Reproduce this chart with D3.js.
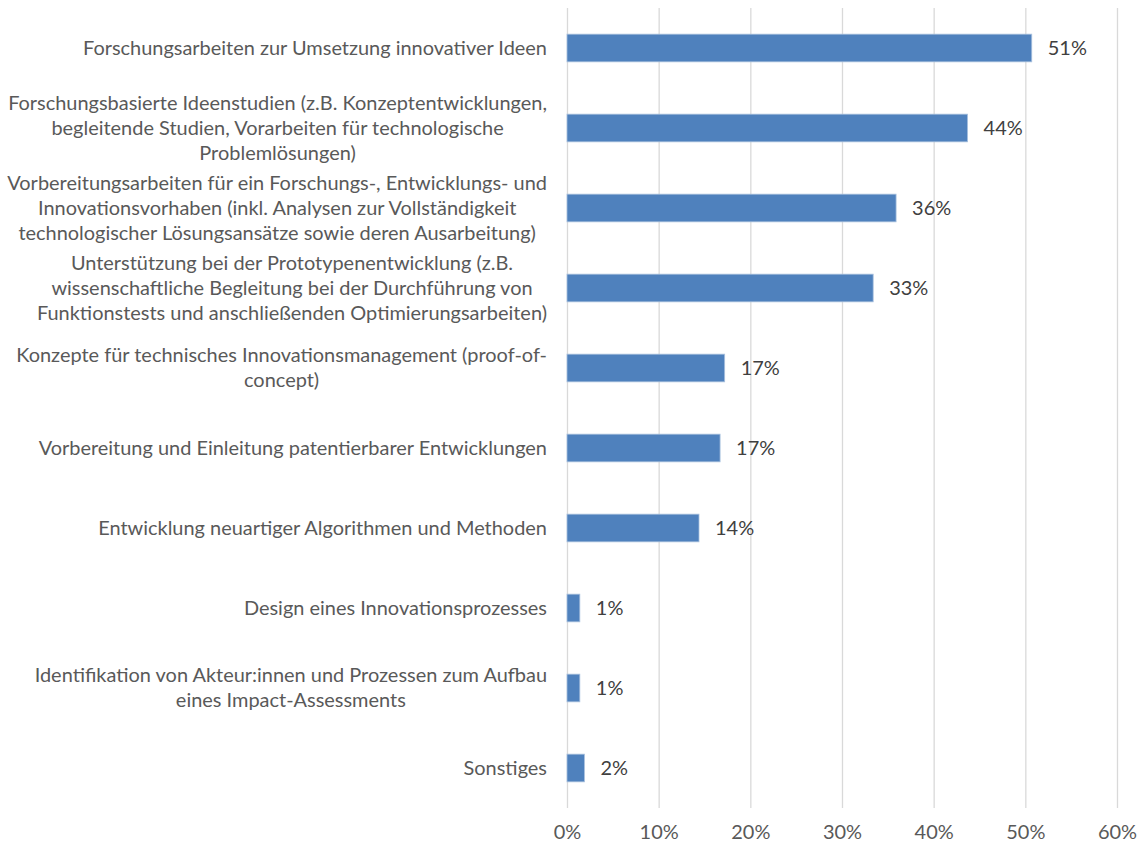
<!DOCTYPE html>
<html><head><meta charset="utf-8">
<script src="https://cdn.jsdelivr.net/npm/d3@7"></script>
<style>body{margin:0;background:#fff}svg{display:block}</style>
</head><body>
<svg id="c" width="1143" height="845"></svg>
<script>
const categories = [
  ["Forschungsarbeiten zur Umsetzung innovativer Ideen"],
  ["Forschungsbasierte Ideenstudien (z.B. Konzeptentwicklungen,", "begleitende Studien, Vorarbeiten für technologische", "Problemlösungen)"],
  ["Vorbereitungsarbeiten für ein Forschungs-, Entwicklungs- und", "Innovationsvorhaben (inkl. Analysen zur Vollständigkeit", "technologischer Lösungsansätze sowie deren Ausarbeitung)"],
  ["Unterstützung bei der Prototypenentwicklung (z.B.", "wissenschaftliche Begleitung bei der Durchführung von", "Funktionstests und anschließenden Optimierungsarbeiten)"],
  ["Konzepte für technisches Innovationsmanagement (proof-of-", "concept)"],
  ["Vorbereitung und Einleitung patentierbarer Entwicklungen"],
  ["Entwicklung neuartiger Algorithmen und Methoden"],
  ["Design eines Innovationsprozesses"],
  ["Identifikation von Akteur:innen und Prozessen zum Aufbau", "eines Impact-Assessments"],
  ["Sonstiges"]
];
const values = [0.507, 0.437, 0.359, 0.334, 0.172, 0.167, 0.144, 0.014, 0.014, 0.019];
const xTicks = [0, 0.1, 0.2, 0.3, 0.4, 0.5, 0.6];

(function () {
const svg = d3.select("#c");
const fontFam = "Lato, 'Open Sans', sans-serif";
const pLeft = 567, pRight = 1117, pTop = 8, pBottom = 808;
const textColor = "#595959";

// fit font size so the second label's longest line spans ~539px (like the reference)
const probe = svg.append("text").attr("font-family", fontFam).attr("font-size", 100).text(categories[1][0]);
const w100 = probe.node().getComputedTextLength();
probe.remove();
const fs = Math.min(20.5, 100 * 539 / w100);

const x = d3.scaleLinear().domain([0, 0.6]).range([pLeft, pRight]);
const y = d3.scaleBand().domain(d3.range(categories.length)).range([pTop, pBottom]).paddingInner(0.654).paddingOuter(0.327);

// gridlines
svg.append("g").selectAll("line").data(xTicks).join("line")
  .attr("x1", d => x(d) + 0.5).attr("x2", d => x(d) + 0.5)
  .attr("y1", pTop).attr("y2", pBottom)
  .attr("stroke", "#d9d9d9").attr("stroke-width", 1.3);

// x tick labels via axis
const xAxis = d3.axisBottom(x).tickValues(xTicks).tickFormat(d3.format(".0%")).tickSize(0).tickPadding(0);
const gx = svg.append("g").attr("transform", `translate(0,${pBottom + 17})`).call(xAxis);
gx.select(".domain").remove();
gx.selectAll("text").attr("font-family", fontFam).attr("font-size", fs).attr("fill", textColor).attr("dy", "0.71em");

// bars
svg.append("g").selectAll("rect").data(values).join("rect")
  .attr("x", x(0)).attr("y", (d, i) => y(i))
  .attr("width", d => x(d) - x(0)).attr("height", y.bandwidth())
  .attr("fill", "#4f81bd").attr("stroke", "#a9c0de").attr("stroke-width", 0.8);

// data labels
svg.append("g").selectAll("text").data(values).join("text")
  .attr("x", d => x(d) + 16).attr("y", (d, i) => y(i) + y.bandwidth() / 2)
  .attr("dy", "0.35em")
  .attr("font-family", fontFam).attr("font-size", fs).attr("fill", "#404040")
  .text(d => Math.round(d * 100) + "%");

// category labels: block right-aligned at 547, lines centered within block
const lh = 25;
const lab = svg.append("g");
categories.forEach((lines, i) => {
  const cy = y(i) + y.bandwidth() / 2;
  const t = lab.append("text").attr("font-family", fontFam).attr("font-size", fs).attr("fill", textColor).attr("text-anchor", "middle");
  const spans = lines.map((ln, k) => t.append("tspan").attr("y", cy + (k - (lines.length - 1) / 2) * lh).attr("dy", "0.35em").text(ln));
  const maxW = d3.max(spans, s => s.node().getComputedTextLength());
  spans.forEach(s => s.attr("x", 547 - maxW / 2));
});
})();
</script>
</body></html>
